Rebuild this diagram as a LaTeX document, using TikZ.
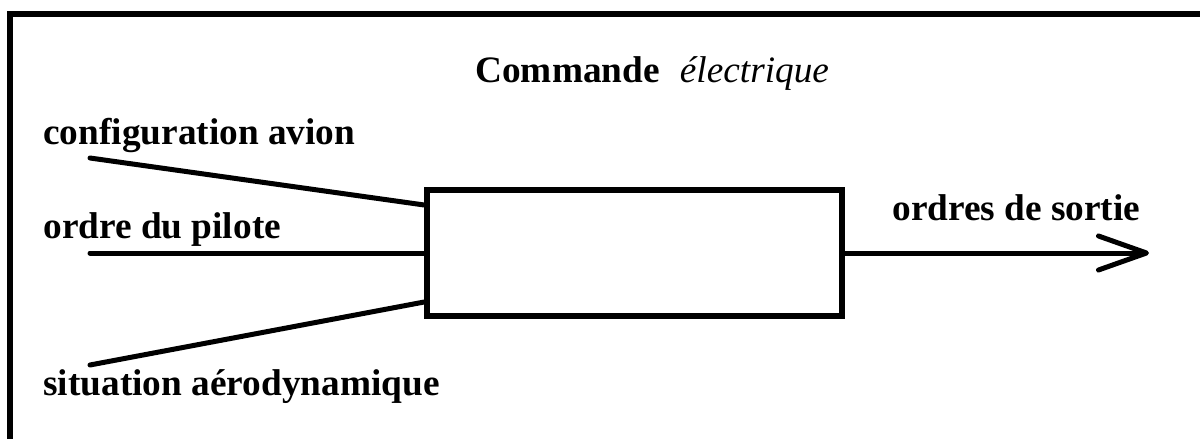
\documentclass[tikz,border=0pt]{standalone}
\usepackage{fontspec}
\setmainfont{Liberation Serif}
\usetikzlibrary{arrows.meta,positioning,calc}
\definecolor{ink}{RGB}{0,0,0}
\tikzset{
  every picture/.style={color=ink, x=0.5pt, y=-0.5pt},
  lbl/.style={anchor=base west, inner sep=0pt, font=\fontsize{18.65}{22}\selectfont\bfseries},
  unit/.style={draw=ink, line width=2.8pt, minimum width=207.5pt, minimum height=63pt, inner sep=0pt},
  wire/.style={line width=2.5pt, line cap=round},
  outflow/.style={wire, -{Straight Barb[length=24pt,width=17pt,round]}},
  frame/.style={line width=3pt},
}

\begin{document}
\begin{tikzpicture}
  % block diagram of the fly-by-wire law: three inputs, one output
  \clip (0,0) rectangle (1200,439);
  \draw[frame] (10,470) -- (10,13.5) -- (1220,13.5);
  \node[lbl] (title) at (475,82) {Commande\hspace{10pt}\textmd{\textit{électrique}}};
  \node[unit] (box) at (634.5,253) {};
  \node[lbl] (cfg) at (43,144) {configuration avion};
  \node[lbl] (pil) at (43,238) {ordre du pilote};
  \node[lbl] (sit) at (43,395) {situation aérodynamique};
  \node[lbl] (out) at (892,220) {ordres de sortie};
  \coordinate (cfgin) at (90,158);
  \coordinate (pilin) at (90,253);
  \coordinate (sitin) at (90,365);
  \coordinate (outtip) at (1149,253);
  \draw[wire] (cfgin) -- ([yshift=24pt]box.west);
  \draw[wire] (pilin) -- (box.west);
  \draw[wire] (sitin) -- ([yshift=-24.5pt]box.west);
  \draw[outflow] (box.east) -- (outtip);
\end{tikzpicture}
\end{document}
